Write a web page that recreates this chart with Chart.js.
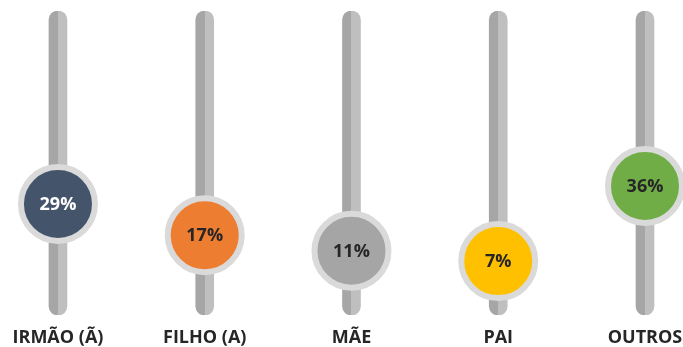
<!DOCTYPE html>
<html>
<head>
<meta charset="utf-8">
<script src="https://cdn.jsdelivr.net/npm/chart.js@4/dist/chart.umd.min.js"></script>
<style>
    html, body { margin: 0; padding: 0; background: #ffffff; }
    #wrap { width: 683px; height: 347px; position: relative; }
</style>
</head>
<body>
<div id="wrap"><canvas id="sliderChart"></canvas></div>
<script>
// Chart data
const categories = ['IRMÃO (Ã)', 'FILHO (A)', 'MÃE', 'PAI', 'OUTROS'];
const percentValues = [29, 17, 11, 7, 36];
const knobColors = ['#44546a', '#ed7d31', '#a5a5a5', '#ffc000', '#70ad47'];
const knobTextColors = ['#ffffff', '#262626', '#262626', '#262626', '#262626'];

// slider track range (in value units) and x range
const TRACK_MIN = -13.8;
const TRACK_MAX = 103.5;
const X_MIN = -0.395;
const X_MAX = 4.259;

const trackData = categories.map((c, i) => ({ x: i, y: [TRACK_MIN, TRACK_MAX] }));
const knobData = percentValues.map((v, i) => ({ x: i, y: v }));

// two-tone track fill: darker left half, lighter right half
function trackFill(context) {
    const chart = context.chart;
    const xScale = chart.scales.x;
    if (!chart.chartArea || !xScale) return '#b3b3b3';
    const cx = xScale.getPixelForValue(context.dataIndex);
    const g = chart.ctx.createLinearGradient(cx - 9, 0, cx + 9, 0);
    g.addColorStop(0, '#a6a6a6');
    g.addColorStop(0.5, '#a6a6a6');
    g.addColorStop(0.5, '#bfbfbf');
    g.addColorStop(1, '#bfbfbf');
    return g;
}

// percentage text inside each knob
const knobLabels = {
    id: 'knobLabels',
    afterDatasetsDraw(chart) {
        const meta = chart.getDatasetMeta(0);
        const ctx = chart.ctx;
        ctx.save();
        ctx.font = 'bold 18px "Open Sans"';
        ctx.textAlign = 'center';
        ctx.textBaseline = 'middle';
        meta.data.forEach((pt, i) => {
            ctx.fillStyle = knobTextColors[i];
            ctx.fillText(percentValues[i] + '%', pt.x, pt.y + 1);
        });
        ctx.restore();
    }
};

new Chart(document.getElementById('sliderChart'), {
    data: {
        datasets: [
            {
                type: 'scatter',
                data: knobData,
                pointRadius: 37,
                pointHoverRadius: 37,
                pointBackgroundColor: knobColors,
                pointBorderColor: '#dadada',
                pointBorderWidth: 6,
                pointHoverBorderWidth: 6,
                order: 0
            },
            {
                type: 'bar',
                data: trackData,
                backgroundColor: trackFill,
                barThickness: 18,
                borderRadius: 9,
                borderSkipped: false,
                order: 1
            }
        ]
    },
    options: {
        responsive: true,
        maintainAspectRatio: false,
        animation: false,
        layout: { autoPadding: false, padding: { top: 11, left: 0, right: 0, bottom: 0 } },
        plugins: {
            legend: { display: false },
            tooltip: { enabled: false }
        },
        scales: {
            x: {
                type: 'linear',
                offset: false,
                min: X_MIN,
                max: X_MAX,
                grid: { display: false, drawTicks: false },
                border: { display: false },
                afterBuildTicks(scale) {
                    scale.ticks = categories.map((c, i) => ({ value: i }));
                },
                afterFit(scale) {
                    scale.height = 32;
                    scale.paddingLeft = 0;
                    scale.paddingRight = 0;
                },
                ticks: {
                    autoSkip: false,
                    maxRotation: 0,
                    padding: 12,
                    color: '#262626',
                    font: { family: '"Open Sans"', size: 18, weight: 'bold' },
                    callback: (v) => categories[v]
                }
            },
            y: {
                display: false,
                min: TRACK_MIN,
                max: TRACK_MAX
            }
        }
    },
    plugins: [knobLabels]
});
</script>
</body>
</html>
